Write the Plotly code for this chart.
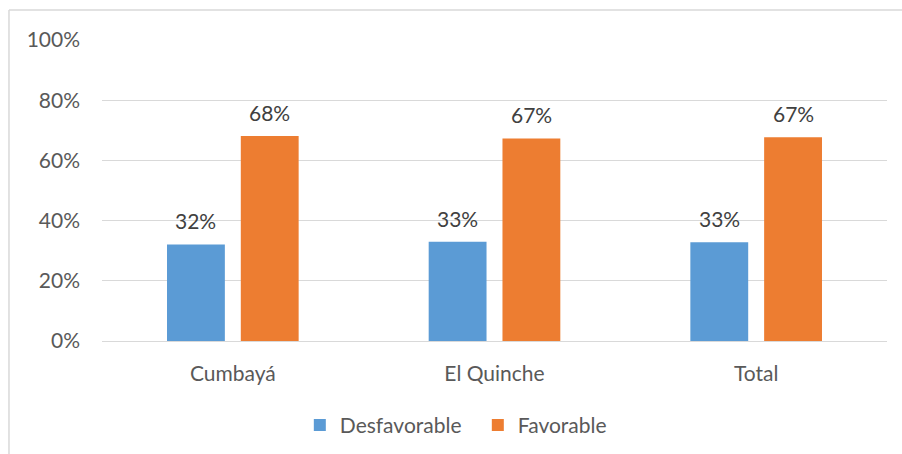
import plotly.graph_objects as go

categories = ["Cumbayá", "El Quinche", "Total"]
desfavorable = [0.321, 0.330, 0.328]
favorable = [0.681, 0.673, 0.677]
desf_labels = ["32%", "33%", "33%"]
fav_labels = ["68%", "67%", "67%"]
y_ticks = [0, 0.2, 0.4, 0.6, 0.8, 1.0]
y_ticktext = ["0%", "20%", "40%", "60%", "80%", "100%"]

FONT = "Lato"
TXT = "#595959"
FS = 21

fig = go.Figure()
fig.add_trace(go.Bar(name="Desfavorable", x=categories, y=desfavorable,
                     marker=dict(color="#5B9BD5", line=dict(width=0))))
fig.add_trace(go.Bar(name="Favorable", x=categories, y=favorable,
                     marker=dict(color="#ED7D31", line=dict(width=0))))

annotations = []
for i, c in enumerate(categories):
    annotations.append(dict(x=c, y=desfavorable[i], xref="x", yref="y", text=desf_labels[i],
                            showarrow=False, xshift=-37, yshift=9, yanchor="bottom",
                            font=dict(family=FONT, size=FS, color="#404040")))
    annotations.append(dict(x=c, y=favorable[i], xref="x", yref="y", text=fav_labels[i],
                            showarrow=False, xshift=37, yshift=9, yanchor="bottom",
                            font=dict(family=FONT, size=FS, color="#404040")))

fig.update_layout(
    width=902, height=454,
    margin=dict(l=102, r=15, t=40, b=113, autoexpand=False),
    paper_bgcolor="white", plot_bgcolor="white",
    barmode="group", bargap=0.436, bargroupgap=0.216,
    font=dict(family=FONT, size=FS, color=TXT),
    showlegend=True,
    legend=dict(orientation="h", x=0.252, xanchor="left", y=-0.28, yanchor="middle",
                font=dict(family=FONT, size=FS, color=TXT), entrywidth=133,
                itemclick=False),
    annotations=annotations,
    shapes=[
        dict(type="line", xref="paper", yref="paper", x0=-0.1185, x1=-0.1185, y0=1.0997, y1=-0.5,
             line=dict(color="#D9D9D9", width=1.5)),
        dict(type="line", xref="paper", yref="paper", x0=-0.1185, x1=1.1, y0=1.0997, y1=1.0997,
             line=dict(color="#D9D9D9", width=1.5)),
    ],
)
fig.update_xaxes(showgrid=False, showline=True, linecolor="#D9D9D9", linewidth=1,
                 ticks="", ticklabelstandoff=14, automargin=False,
                 tickfont=dict(family=FONT, size=FS, color=TXT))
fig.update_yaxes(range=[0, 1.0], tickvals=y_ticks, ticktext=y_ticktext,
                 showgrid=True, gridcolor="#D9D9D9", gridwidth=1, zeroline=False,
                 showline=False, ticks="", ticklabelstandoff=21, automargin=False,
                 tickfont=dict(family=FONT, size=FS, color=TXT))
fig.write_html("out.html")
